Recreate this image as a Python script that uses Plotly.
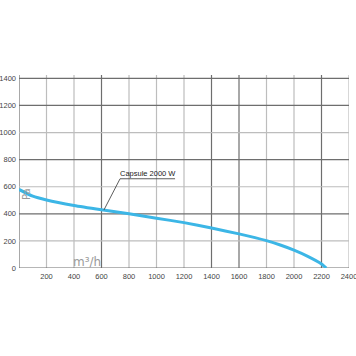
import plotly.graph_objects as go

# data
flow = [0, 100, 200, 400, 600, 800, 1000, 1200, 1400, 1600, 1800, 1900, 2000, 2100, 2200, 2235]
pressure = [580, 530, 502, 462, 430, 400, 368, 335, 295, 252, 202, 170, 132, 86, 30, 0]
x_ticks = [200, 400, 600, 800, 1000, 1200, 1400, 1600, 1800, 2000, 2200, 2400]
y_ticks = [0, 200, 400, 600, 800, 1000, 1200, 1400]
x_dark = [0, 600, 1400, 1600, 2200]
x_light = [200, 400, 800, 1000, 1200, 1800, 2000, 2400]
y_dark = [0, 400, 800, 1200, 1400]
y_light = [200, 600, 1000]
series_label = "Capsule 2000 W"
leader_x = [618, 735, 1135]
leader_y = [429, 659, 659]

fig = go.Figure()

fig.add_trace(go.Scatter(x=flow, y=pressure, mode="lines",
                         line=dict(color="#3cb6e6", width=3, shape="spline", smoothing=0.5),
                         hoverinfo="skip", showlegend=False))
fig.add_trace(go.Scatter(x=leader_x, y=leader_y, mode="lines",
                         line=dict(color="#333333", width=0.8),
                         hoverinfo="skip", showlegend=False))

for xv in x_light:
    fig.add_shape(type="line", xref="x", yref="y", x0=xv, x1=xv, y0=0, y1=1425,
                  line=dict(color="#bdbdbd", width=1.2), layer="below")
for xv in x_dark:
    fig.add_shape(type="line", xref="x", yref="y", x0=xv, x1=xv, y0=0, y1=1425,
                  line=dict(color="#6e6e6e", width=1.2), layer="below")
for yv in y_light:
    fig.add_shape(type="line", xref="x", yref="y", x0=0, x1=2400, y0=yv, y1=yv,
                  line=dict(color="#bdbdbd", width=1.2), layer="below")
for yv in y_dark:
    fig.add_shape(type="line", xref="x", yref="y", x0=0, x1=2400, y0=yv, y1=yv,
                  line=dict(color="#6e6e6e", width=1.2), layer="below")

fig.add_annotation(x=(leader_x[1] + leader_x[2]) / 2, y=leader_y[1], text=series_label,
                   showarrow=False, yanchor="bottom", yshift=-1,
                   font=dict(family="Liberation Sans, Arial", size=7.5, color="#222222"))
fig.add_annotation(x=50, y=545, text="Pa", showarrow=False, textangle=-90,
                   xanchor="center", yanchor="middle",
                   font=dict(family="DejaVu Sans", size=10, color="#9a9a9a"))
fig.add_annotation(x=495, y=45, text="m³/h", showarrow=False,
                   xanchor="center", yanchor="middle",
                   font=dict(family="DejaVu Sans", size=12, color="#9a9a9a"))

axis_font = dict(family="Liberation Sans, Arial", size=7.5, color="#444444")
fig.update_layout(
    width=356, height=356,
    margin=dict(l=19, r=7, t=75, b=88, autoexpand=False),
    paper_bgcolor="white", plot_bgcolor="white",
    xaxis=dict(range=[0, 2400], tickvals=x_ticks, showgrid=False, zeroline=False,
               showline=False, ticks="", tickfont=axis_font, ticklabelstandoff=2,
               automargin=False, ticklabeloverflow="allow"),
    yaxis=dict(range=[0, 1425], tickvals=y_ticks, showgrid=False, zeroline=False,
               showline=False, ticks="", tickfont=axis_font, ticklabelstandoff=2,
               automargin=False, ticklabeloverflow="allow"),
)

fig.write_html("out.html")
